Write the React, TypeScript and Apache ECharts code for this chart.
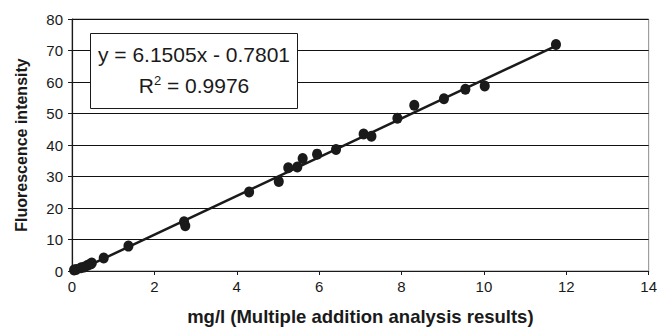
import React, { useEffect, useRef } from "react";
import * as echarts from "echarts";

const xValues = [0.05, 0.1, 0.22, 0.3, 0.38, 0.45, 0.48, 0.77, 1.37, 2.72, 2.75, 4.3, 5.02, 5.25, 5.47, 5.6, 5.95, 6.41, 7.08, 7.27, 7.9, 8.31, 9.03, 9.55, 10.02, 11.75];
const yValues = [0.3, 0.5, 1.0, 1.3, 1.8, 2.2, 2.5, 4.1, 7.9, 15.6, 14.4, 25.1, 28.4, 32.8, 33.0, 35.7, 37.1, 38.6, 43.5, 42.8, 48.5, 52.6, 54.7, 57.7, 58.7, 71.9];
const slope = 6.1505;
const intercept = -0.7801;
const xTicks = [0, 2, 4, 6, 8, 10, 12, 14];
const yTicks = [0, 10, 20, 30, 40, 50, 60, 70, 80];
const equationLines = ["y = 6.1505x - 0.7801", "R{sup|2} = 0.9976"];
const xTitle = "mg/l (Multiple addition analysis results)";
const yTitle = "Fluorescence intensity";

export default function App() {
  const ref = useRef<HTMLDivElement>(null);
  useEffect(() => {
    if (!ref.current) return;
    const chart = echarts.init(ref.current, undefined, { renderer: "svg" });
    const points = xValues.map((x, i) => [x, yValues[i]]);
    const xMin = Math.min(...xValues);
    const xMax = Math.max(...xValues);
    const trend = [
      [xMin, slope * xMin + intercept],
      [xMax, slope * xMax + intercept],
    ];
    const font = "Liberation Sans, Arial, Helvetica, sans-serif";
    chart.setOption({
      animation: false,
      backgroundColor: "#ffffff",
      textStyle: { fontFamily: font },
      grid: {
        left: 72,
        right: 11,
        top: 19,
        bottom: 54,
        show: true,
        borderColor: "#8c8c8c",
        borderWidth: 1,
        backgroundColor: "transparent",
      },
      xAxis: {
        type: "value",
        min: xTicks[0],
        max: xTicks[xTicks.length - 1],
        interval: 2,
        name: xTitle,
        nameLocation: "middle",
        nameGap: 36,
        nameTextStyle: { fontSize: 18.5, fontWeight: "bold", color: "#1a1a1a", fontFamily: font },
        axisLine: { lineStyle: { color: "#1a1a1a", width: 1.2 } },
        axisTick: { show: true, length: 4, inside: false, lineStyle: { color: "#1a1a1a" } },
        axisLabel: { fontSize: 15, color: "#1a1a1a", margin: 8, fontFamily: font },
        splitLine: { show: false },
      },
      yAxis: {
        type: "value",
        min: yTicks[0],
        max: yTicks[yTicks.length - 1],
        interval: 10,
        name: yTitle,
        nameLocation: "middle",
        nameGap: 43,
        nameRotate: 90,
        nameTextStyle: { fontSize: 16, fontWeight: "bold", color: "#1a1a1a", fontFamily: font },
        axisLine: { show: true, lineStyle: { color: "#1a1a1a", width: 1.2 } },
        axisTick: { show: true, length: 4, inside: false, lineStyle: { color: "#1a1a1a" } },
        axisLabel: { fontSize: 15, color: "#1a1a1a", margin: 9, fontFamily: font },
        splitLine: { show: true, lineStyle: { color: "#111111", width: 1 } },
      },
      series: [
        {
          type: "line",
          data: trend,
          showSymbol: false,
          symbol: "none",
          lineStyle: { color: "#1a1a1a", width: 2.5 },
          z: 3,
        },
        {
          type: "scatter",
          data: points,
          symbol: "circle",
          symbolSize: [10, 11],
          itemStyle: { color: "#1a1a1a", opacity: 1 },
          z: 4,
        },
      ],
      graphic: [
        {
          type: "rect",
          shape: { x: 90.5, y: 33.5, width: 207, height: 75 },
          style: { fill: "#ffffff", stroke: "#1a1a1a", lineWidth: 1 },
          z: 10,
        },
        {
          type: "text",
          x: 194,
          y: 54,
          style: {
            text: equationLines[0],
            fontSize: 21,
            fontFamily: font,
            fill: "#1a1a1a",
            align: "center",
            verticalAlign: "middle",
          },
          z: 11,
        },
        {
          type: "text",
          x: 194,
          y: 85,
          style: {
            text: equationLines[1],
            fontSize: 21,
            fontFamily: font,
            fill: "#1a1a1a",
            align: "center",
            verticalAlign: "middle",
            rich: {
              sup: { fontSize: 13, verticalAlign: "top", padding: [0, 0, 10, 0], fill: "#1a1a1a", fontFamily: font },
            },
          },
          z: 11,
        },
      ],
    });
    return () => chart.dispose();
  }, []);
  return <div ref={ref} style={{ width: 660, height: 331, position: "absolute", left: 0, top: 0 }} />;
}
